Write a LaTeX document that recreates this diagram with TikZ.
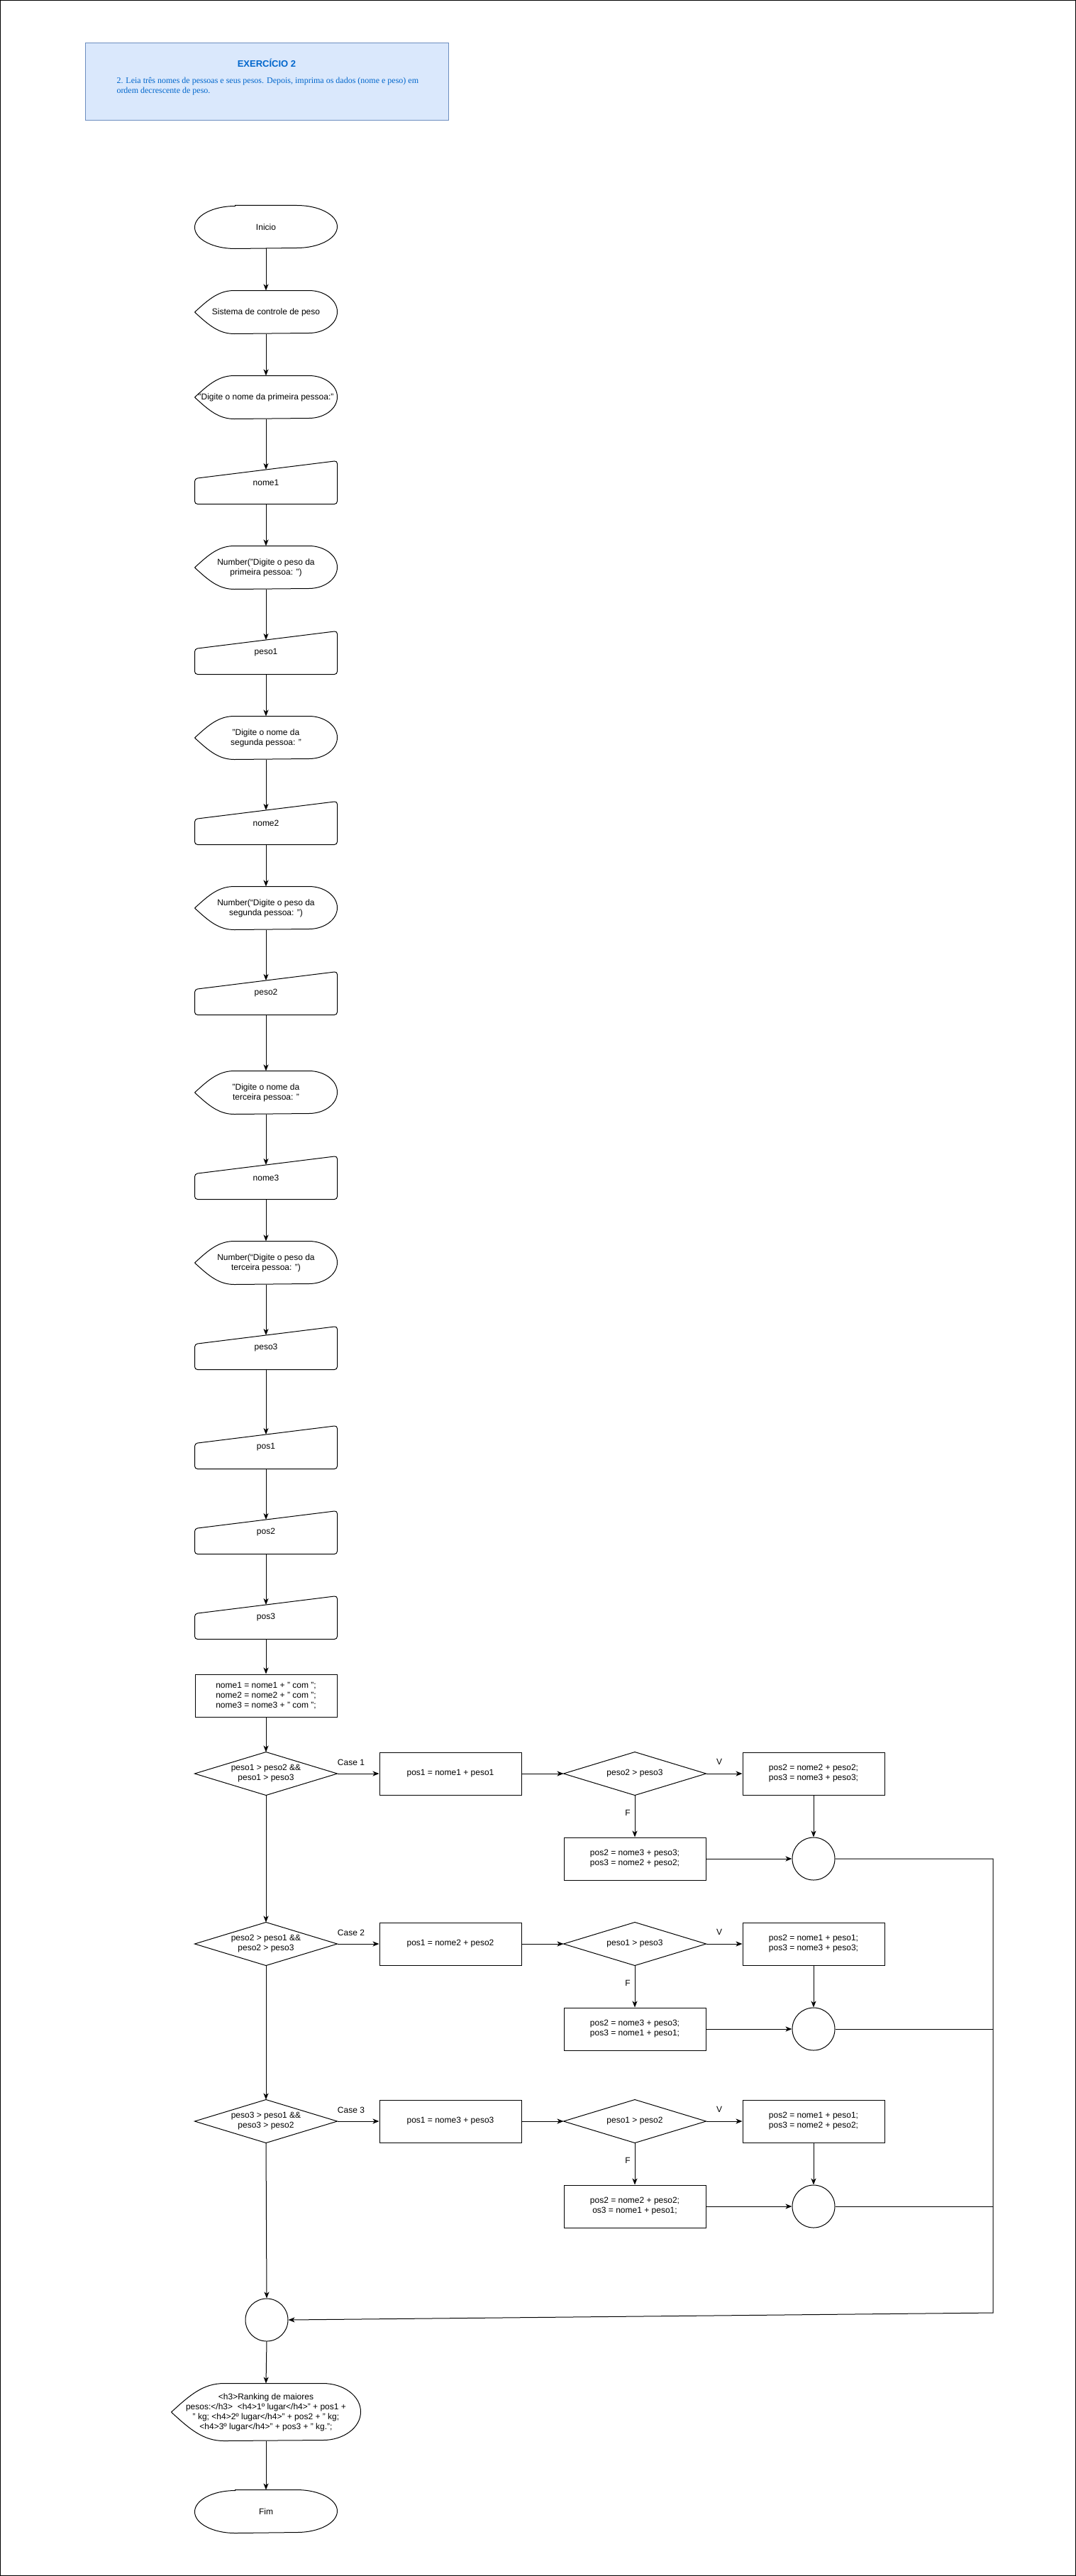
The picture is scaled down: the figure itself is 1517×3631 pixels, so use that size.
\documentclass[tikz,border=0pt]{standalone}
\usepackage{fontspec}
\setmainfont{Liberation Sans}
\newfontfamily\serifb{Liberation Serif}
\usetikzlibrary{arrows.meta}
\definecolor{hdrfill}{HTML}{DAE8FC}
\definecolor{hdrdraw}{HTML}{6C8EBF}
\definecolor{hdrtext}{HTML}{0066CC}

\newcommand{\termshape}[1]{\draw ([xshift=57pt]#1.north west) -- ([xshift=-57pt]#1.north east) arc[start angle=90,end angle=-90,x radius=57pt,y radius=30pt] -- ([xshift=57pt]#1.south west) arc[start angle=270,end angle=90,x radius=57pt,y radius=30pt] -- cycle;}
\newcommand{\dispshape}[3]{\draw (#1.west) .. controls ([xshift={0.1*#2*1pt},yshift={-0.2*#3*1pt}]#1.north west) and ([xshift={0.17*#2*1pt}]#1.north west) .. ([xshift={0.28*#2*1pt}]#1.north west) -- ([xshift={-0.2*#2*1pt}]#1.north east) arc[start angle=90,end angle=-90,x radius={0.2*#2*1pt},y radius={0.5*#3*1pt}] -- ([xshift={0.28*#2*1pt}]#1.south west) .. controls ([xshift={0.17*#2*1pt}]#1.south west) and ([xshift={0.1*#2*1pt},yshift={0.2*#3*1pt}]#1.south west) .. (#1.west);}
\newcommand{\mishape}[1]{\draw[rounded corners=4pt] ([yshift=-25pt]#1.north west) -- (#1.north east) -- (#1.south east) -- (#1.south west) -- cycle;}
\newcommand{\decshape}[1]{\draw (#1.west) -- (#1.north) -- (#1.east) -- (#1.south) -- cycle;}

\begin{document}
\begin{tikzpicture}[x=1pt,y=-1pt,line width=1pt,
  base/.style={inner sep=0pt, align=center, font=\fontsize{12}{14}\selectfont, text=black},
  shp/.style={base, minimum width=200pt, minimum height=60pt},
  boxn/.style={shp, draw},
  circn/.style={base, draw, circle, minimum size=60pt},
  lbl/.style={base},
  arr/.style={-{Stealth[length=9pt,width=7pt,inset=2.5pt]}},
  ]
\useasboundingbox (0,0) rectangle (1517,3631);
\draw[line width=0.8pt] (0.5,0.5) rectangle (1516.5,3630.5);

% header
\draw[hdrdraw, fill=hdrfill] (120,61) rectangle (632,170);
\node[base, font=\fontsize{13}{15}\selectfont\bfseries, text=hdrtext] (title) at (376,89) {EXERCÍCIO 2};
\node[base, anchor=north west, align=left, text=hdrtext, font=\serifb\fontsize{12}{14}\selectfont] (desc) at (164,109) {2. Leia três nomes de pessoas e seus pesos. Depois, imprima os dados (nome e peso) em\\ordem decrescente de peso.};

% main column
\node[shp] (ini) at (375,320) {Inicio}; \termshape{ini}
\node[shp] (sis) at (375,440) {Sistema de controle de peso}; \dispshape{sis}{200}{60}
\node[shp] (dig1) at (375,560) {"Digite o nome da primeira pessoa:"}; \dispshape{dig1}{200}{60}
\node[shp] (nome1) at (375,680) {nome1}; \mishape{nome1}
\node[shp] (num1) at (375,800) {Number("Digite o peso da\\primeira pessoa: ")}; \dispshape{num1}{200}{60}
\node[shp] (peso1) at (375,920) {peso1}; \mishape{peso1}
\node[shp] (dig2) at (375,1040) {"Digite o nome da\\segunda pessoa: "}; \dispshape{dig2}{200}{60}
\node[shp] (nome2) at (375,1160) {nome2}; \mishape{nome2}
\node[shp] (num2) at (375,1280) {Number(“Digite o peso da\\segunda pessoa: ")}; \dispshape{num2}{200}{60}
\node[shp] (peso2) at (375,1400) {peso2}; \mishape{peso2}
\node[shp] (dig3) at (375,1540) {"Digite o nome da\\terceira pessoa: "}; \dispshape{dig3}{200}{60}
\node[shp] (nome3) at (375,1660) {nome3}; \mishape{nome3}
\node[shp] (num3) at (375,1780) {Number(“Digite o peso da\\terceira pessoa: ")}; \dispshape{num3}{200}{60}
\node[shp] (peso3) at (375,1900) {peso3}; \mishape{peso3}
\node[shp] (p1) at (375,2040) {pos1}; \mishape{p1}
\node[shp] (p2) at (375,2160) {pos2}; \mishape{p2}
\node[shp] (p3) at (375,2280) {pos3}; \mishape{p3}
\node[boxn] (asg) at (375,2390) {nome1 = nome1 + " com ";\\nome2 = nome2 + " com ";\\nome3 = nome3 + " com ";};

% case 1
\node[shp] (dec1) at (375,2500) {peso1 > peso2 \&\&\\peso1 > peso3}; \decshape{dec1}
\node[boxn] (a1) at (635,2500) {pos1 = nome1 + peso1};
\node[shp] (c1) at (895,2500) {peso2 > peso3}; \decshape{c1}
\node[boxn] (v1) at (1147,2500) {pos2 = nome2 + peso2;\\pos3 = nome3 + peso3;};
\node[boxn] (f1) at (895,2620) {pos2 = nome3 + peso3;\\pos3 = nome2 + peso2;};
\node[circn] (m1) at (1147,2620) {};

% case 2
\node[shp] (dec2) at (375,2740) {peso2 > peso1 \&\&\\peso2 > peso3}; \decshape{dec2}
\node[boxn] (a2) at (635,2740) {pos1 = nome2 + peso2};
\node[shp] (c2) at (895,2740) {peso1 > peso3}; \decshape{c2}
\node[boxn] (v2) at (1147,2740) {pos2 = nome1 + peso1;\\pos3 = nome3 + peso3;};
\node[boxn] (f2) at (895,2860) {pos2 = nome3 + peso3;\\pos3 = nome1 + peso1;};
\node[circn] (m2) at (1147,2860) {};

% case 3
\node[shp] (dec3) at (375,2990) {peso3 > peso1 \&\&\\peso3 > peso2}; \decshape{dec3}
\node[boxn] (a3) at (635,2990) {pos1 = nome3 + peso3};
\node[shp] (c3) at (895,2990) {peso1 > peso2}; \decshape{c3}
\node[boxn] (v3) at (1147,2990) {pos2 = nome1 + peso1;\\pos3 = nome2 + peso2;};
\node[boxn] (f3) at (895,3110) {pos2 = nome2 + peso2;\\os3 = nome1 + peso1;};
\node[circn] (m3) at (1147,3110) {};

% merge, output, end
\node[circn] (mg) at (376,3270) {};
\node[base, minimum width=266pt, minimum height=80pt] (out) at (375,3400) {<h3>Ranking de maiores\\pesos:</h3>\ \ <h4>1º lugar</h4>" + pos1 +\\" kg; <h4>2º lugar</h4>" + pos2 + " kg;\\<h4>3º lugar</h4>" + pos3 + " kg.";}; \dispshape{out}{266}{80}
\node[shp] (fim) at (375,3540) {Fim}; \termshape{fim}

% labels
\node[lbl] (l1) at (495,2484) {Case 1};
\node[lbl] (l2) at (495,2724) {Case 2};
\node[lbl] (l3) at (495,2974) {Case 3};
\node[lbl] (lv1) at (1014,2483) {V};
\node[lbl] (lv2) at (1014,2723) {V};
\node[lbl] (lv3) at (1014,2973) {V};
\node[lbl] (lf1) at (885,2555) {F};
\node[lbl] (lf2) at (885,2795) {F};
\node[lbl] (lf3) at (885,3045) {F};

% coordinates for right bus
\coordinate (r1) at (1400,2620);
\coordinate (r2) at (1400,2860);
\coordinate (r3) at (1400,3110);
\coordinate (rb) at (1400,3260);

% connectors main column
\draw[arr] (ini.south) -- (sis.north);
\draw[arr] (sis.south) -- (dig1.north);
\draw[arr] (dig1.south) -- ([yshift=-12.5pt]nome1.north);
\draw[arr] (nome1.south) -- (num1.north);
\draw[arr] (num1.south) -- ([yshift=-12.5pt]peso1.north);
\draw[arr] (peso1.south) -- (dig2.north);
\draw[arr] (dig2.south) -- ([yshift=-12.5pt]nome2.north);
\draw[arr] (nome2.south) -- (num2.north);
\draw[arr] (num2.south) -- ([yshift=-12.5pt]peso2.north);
\draw[arr] (peso2.south) -- (dig3.north);
\draw[arr] (dig3.south) -- ([yshift=-12.5pt]nome3.north);
\draw[arr] (nome3.south) -- (num3.north);
\draw[arr] (num3.south) -- ([yshift=-12.5pt]peso3.north);
\draw[arr] (peso3.south) -- ([yshift=-12.5pt]p1.north);
\draw[arr] (p1.south) -- ([yshift=-12.5pt]p2.north);
\draw[arr] (p2.south) -- ([yshift=-12.5pt]p3.north);
\draw[arr] (p3.south) -- (asg.north);
\draw[arr] (asg.south) -- (dec1.north);
\draw[arr] (dec1.south) -- (dec2.north);
\draw[arr] (dec2.south) -- (dec3.north);
\draw[arr] (dec3.south) -- (mg.north);
\draw[arr] (mg.south) -- (out.north);
\draw[arr] (out.south) -- (fim.north);

% case rows
\foreach \i in {1,2,3}{
  \draw[arr] (dec\i.east) -- (a\i.west);
  \draw[arr] (a\i.east) -- (c\i.west);
  \draw[arr] (c\i.east) -- (v\i.west);
  \draw[arr] (c\i.south) -- (f\i.north);
  \draw[arr] (v\i.south) -- (m\i.north);
  \draw[arr] (f\i.east) -- (m\i.west);
}
\draw[arr] (m1.east) -- (r1) -- (rb) -- (mg.east);
\draw (m2.east) -- (r2);
\draw (m3.east) -- (r3);
\end{tikzpicture}
\end{document}
